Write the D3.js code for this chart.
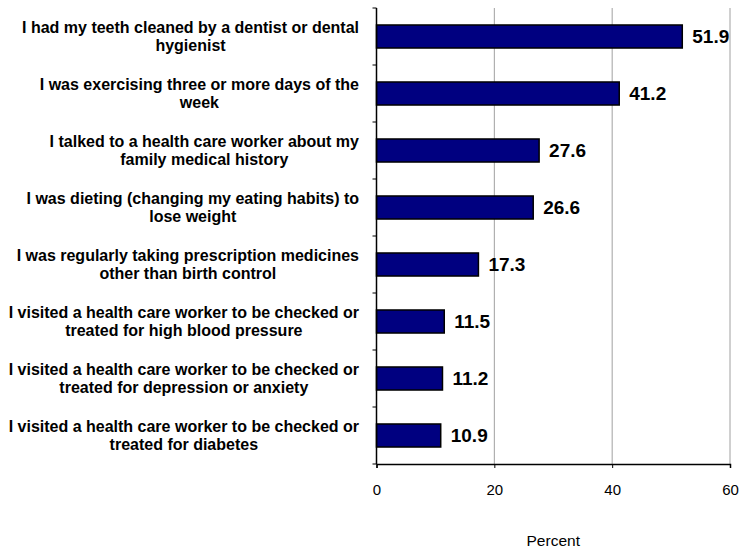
<!DOCTYPE html>
<html><head><meta charset="utf-8">
<script src="https://cdn.jsdelivr.net/npm/d3@7"></script>
<style>body{margin:0;background:#fff;} svg{display:block;font-family:Arial,"Liberation Sans",sans-serif;}</style>
</head><body>
<script>
const categories = [
  ["I had my teeth cleaned by a dentist or dental", "hygienist"],
  ["I was exercising three or more days of the", "week"],
  ["I talked to a health care worker about my", "family medical history"],
  ["I was dieting (changing my eating habits) to", "lose weight"],
  ["I was regularly taking prescription medicines", "other than birth control"],
  ["I visited a health care worker to be checked or", "treated for high blood pressure"],
  ["I visited a health care worker to be checked or", "treated for depression or anxiety"],
  ["I visited a health care worker to be checked or", "treated for diabetes"]
];
const values = [51.9, 41.2, 27.6, 26.6, 17.3, 11.5, 11.2, 10.9];
const xTicks = [0, 20, 40, 60];
const xLabel = "Percent";

const W = 739, H = 550;
const m = {left: 376.5, right: 739 - 730, top: 8, bottom: 550 - 464};
const svg = d3.select("body").append("svg").attr("width", W).attr("height", H);
const ids = categories.map((c, i) => i);
const x = d3.scaleLinear().domain([0, 60]).range([m.left, W - m.right]);
const y = d3.scaleBand().domain(ids).range([m.top, H - m.bottom]).paddingInner(0.596).paddingOuter(0.298);
const yb = d3.scaleBand().domain(ids).range([m.top, H - m.bottom]);

// gridlines
svg.append("g").selectAll("line").data(xTicks.filter(t => t > 0)).join("line")
  .attr("x1", d => x(d)).attr("x2", d => x(d))
  .attr("y1", m.top).attr("y2", H - m.bottom)
  .attr("stroke", "#a0a0a0").attr("stroke-width", 1);

// bars
svg.append("g").selectAll("rect").data(values).join("rect")
  .attr("x", x(0)).attr("y", (d, i) => y(i))
  .attr("width", d => x(d) - x(0)).attr("height", y.bandwidth())
  .attr("fill", "#000080").attr("stroke", "#000").attr("stroke-width", 1.5);

// value labels
svg.append("g").selectAll("text").data(values).join("text")
  .attr("x", d => x(d) + 10).attr("y", (d, i) => y(i) + y.bandwidth() / 2)
  .attr("dy", "0.36em").attr("font-size", 19).attr("font-weight", "bold")
  .text(d => d.toFixed(1));

// x axis
const xa = svg.append("g").attr("transform", `translate(0,${H - m.bottom})`)
  .call(d3.axisBottom(x).tickValues(xTicks).tickSize(4).tickPadding(16));
xa.select(".domain").attr("stroke", "#000").attr("stroke-width", 1.5);
xa.selectAll("text").attr("font-size", 15).attr("font-family", "Arial, 'Liberation Sans', sans-serif").attr("fill", "#000");

// y axis line with ticks at band boundaries
const ya = svg.append("g");
ya.append("line").attr("x1", x(0)).attr("x2", x(0)).attr("y1", m.top).attr("y2", H - m.bottom)
  .attr("stroke", "#000").attr("stroke-width", 1.5);
const bounds = ids.map(i => yb(i)).concat([H - m.bottom]);
ya.selectAll("line.tk").data(bounds).join("line").attr("class", "tk")
  .attr("x1", x(0) - 4).attr("x2", x(0)).attr("y1", d => d).attr("y2", d => d)
  .attr("stroke", "#000").attr("stroke-width", 1);

// category labels: block right-aligned, lines centered within block
const labelRight = 359;
const lab = svg.append("g").selectAll("text").data(categories).join("text")
  .attr("text-anchor", "middle").attr("font-size", 16).attr("font-weight", "bold")
  .attr("y", (d, i) => y(i) + y.bandwidth() / 2 - 9);
lab.selectAll("tspan").data(d => d).join("tspan")
  .attr("dy", (d, j) => j === 0 ? "0.35em" : "18px").text(d => d);
lab.each(function() {
  const t = d3.select(this);
  let maxW = 0;
  t.selectAll("tspan").each(function() { maxW = Math.max(maxW, this.getComputedTextLength()); });
  t.selectAll("tspan").attr("x", labelRight - maxW / 2);
});

// x label
svg.append("text").attr("x", (x(0) + x(60)) / 2).attr("y", 541).attr("dy", "0.35em")
  .attr("text-anchor", "middle").attr("font-size", 15.5).text(xLabel);
</script>
</body></html>
